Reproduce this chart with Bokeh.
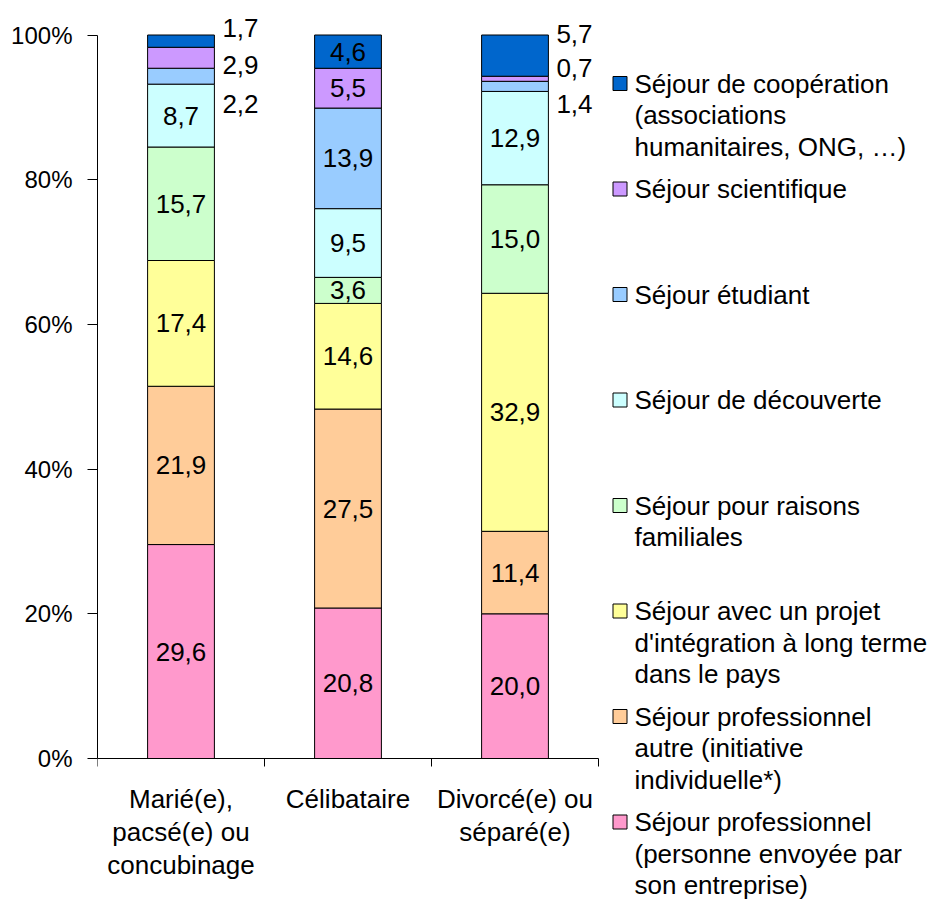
from bokeh.plotting import figure
from bokeh.models import ColumnDataSource, FixedTicker, Range1d
from bokeh.embed import file_html
from bokeh.resources import INLINE
from bokeh.core.properties import value

# ---------------- data ----------------
categories = ["Marié(e),\npacsé(e) ou\nconcubinage", "Célibataire", "Divorcé(e) ou\nséparé(e)"]

# series, from the bottom of each bar to the top
series_keys = ["envoye", "autre", "integration", "familial", "decouverte", "etudiant", "scientifique", "cooperation"]
series_labels = [
    "Séjour professionnel\n(personne envoyée par\nson entreprise)",
    "Séjour professionnel\nautre (initiative\nindividuelle*)",
    "Séjour avec un projet\nd'intégration à long terme\ndans le pays",
    "Séjour pour raisons\nfamiliales",
    "Séjour de découverte",
    "Séjour étudiant",
    "Séjour scientifique",
    "Séjour de coopération\n(associations\nhumanitaires, ONG, …)",
]
envoye = [29.6, 20.8, 20.0]
autre = [21.9, 27.5, 11.4]
integration = [17.4, 14.6, 32.9]
familial = [15.7, 3.6, 15.0]
decouverte = [8.7, 9.5, 12.9]
etudiant = [2.2, 13.9, 1.4]
scientifique = [2.9, 5.5, 0.7]
cooperation = [1.7, 4.6, 5.7]

y_ticks = [0, 20, 40, 60, 80, 100]

# ---------------- style ----------------
colors = ["#FF99CC", "#FFCC99", "#FFFF99", "#CCFFCC", "#CCFFFF", "#99CCFF", "#CC99FF", "#0066CC"]
FONT = "Liberation Sans"
FS_TICK = "24px"
FS_LABEL = "26px"
FS_CAT = "26px"
FS_LEGEND = "26px"
BAR_W = 0.4
# labels of thin segments drawn beside the bar (category index, series key) -> label height in %
outside_label_y = {
    (0, "etudiant"): 90.4, (0, "scientifique"): 95.8, (0, "cooperation"): 100.9,
    (2, "etudiant"): 90.5, (2, "scientifique"): 95.5, (2, "cooperation"): 100.2,
}
# legend layout, in pixels of the chart area
LEG_SQ_X = 619.5
LEG_TXT_X = 634
LEG_Y0 = 83
LEG_STEP = 105.5
LEG_LINE = 31.5

values = {"envoye": envoye, "autre": autre, "integration": integration, "familial": familial,
          "decouverte": decouverte, "etudiant": etudiant, "scientifique": scientifique,
          "cooperation": cooperation}

n = len(categories)
xs = [i + 0.5 for i in range(n)]
totals = [sum(values[k][i] for k in series_keys) for i in range(n)]
data = {"x": xs}
for k in series_keys:
    data[k] = [values[k][i] / totals[i] * 100 for i in range(n)]
source = ColumnDataSource(data)

W, H = 927, 903
LEFT, TOP = 97, 12
CAT_PX = 167.0          # pixels per category
PCT_PX = 746 / 103.11   # pixels per percent
ZERO_Y = 758
p = figure(width=W, height=H, output_backend="svg", toolbar_location=None,
           x_range=Range1d(0, (W - LEFT) / CAT_PX),
           y_range=Range1d(-(H - ZERO_Y) / PCT_PX, (ZERO_Y - TOP) / PCT_PX),
           min_border_left=LEFT, min_border_right=0, min_border_top=TOP, min_border_bottom=0)
p.extra_x_ranges = {"px": Range1d(LEFT, W)}
p.extra_y_ranges = {"px": Range1d(H, TOP)}
p.outline_line_color = None
p.xgrid.visible = False
p.ygrid.visible = False
p.background_fill_color = "white"
p.border_fill_color = "white"

renderers = p.vbar_stack(series_keys, x="x", width=BAR_W, source=source,
                         fill_color=colors, line_color="black", line_width=1)

# value labels
in_x, in_y, in_t = [], [], []
out_x, out_y, out_t = [], [], []
for i in range(n):
    base = 0.0
    for k in series_keys:
        v = data[k][i]
        txt = f"{values[k][i]:.1f}".replace(".", ",")
        if (i, k) in outside_label_y:
            out_x.append(xs[i] + BAR_W / 2)
            out_y.append(outside_label_y[(i, k)])
            out_t.append(txt)
        else:
            in_x.append(xs[i])
            in_y.append(base + v / 2)
            in_t.append(txt)
        base += v

p.text(x="x", y="y", text="t", source=ColumnDataSource(dict(x=in_x, y=in_y, t=in_t)),
       text_font=value(FONT), text_font_size=FS_LABEL, text_color="black",
       text_align="center", text_baseline="middle")
p.text(x="x", y="y", text="t", source=ColumnDataSource(dict(x=out_x, y=out_y, t=out_t)),
       text_font=value(FONT), text_font_size=FS_LABEL, text_color="black",
       text_align="left", text_baseline="middle", x_offset=8)

# axes
yax = p.yaxis[0]
yax.ticker = FixedTicker(ticks=y_ticks)
yax.major_label_overrides = {t: f"{t}%" for t in y_ticks}
yax.bounds = (0, 100)
yax.major_tick_out = 10
yax.major_tick_in = 0
yax.minor_tick_out = 0
yax.minor_tick_in = 0
yax.major_label_standoff = 15
yax.axis_line_color = "black"
yax.major_tick_line_color = "black"
yax.major_label_text_font = FONT
yax.major_label_text_font_size = FS_TICK
yax.major_label_text_color = "black"

xax = p.xaxis[0]
xax.fixed_location = 0
xax.ticker = FixedTicker(ticks=xs, minor_ticks=list(range(n + 1)))
xax.major_label_overrides = {x: c for x, c in zip(xs, categories)}
xax.bounds = (0, n)
xax.major_tick_out = 0
xax.major_tick_in = 0
xax.minor_tick_out = 8
xax.minor_tick_in = 0
xax.minor_tick_line_color = "black"
xax.major_label_standoff = 17
xax.axis_line_color = "black"
xax.major_label_text_font = FONT
xax.major_label_text_font_size = FS_CAT
xax.major_label_text_color = "black"
xax.major_label_text_line_height = 1.1

# legend, top to bottom = reverse of stacking order (pixel ranges)
order = list(reversed(range(len(series_keys))))
sq_y = [LEG_Y0 + r * LEG_STEP for r in range(len(order))]
p.scatter(x=[LEG_SQ_X] * len(order), y=sq_y, marker="square", size=14,
          fill_color=[colors[j] for j in order], line_color="black", line_width=1,
          x_range_name="px", y_range_name="px")
tx, ty, tt = [], [], []
for r, j in enumerate(order):
    for li, line in enumerate(series_labels[j].split("\n")):
        tx.append(LEG_TXT_X)
        ty.append(sq_y[r] + li * LEG_LINE)
        tt.append(line)
p.text(x=tx, y=ty, text=tt, text_font=value(FONT), text_font_size=FS_LEGEND,
       text_color="black", text_align="left", text_baseline="middle",
       x_range_name="px", y_range_name="px")

open("out.html", "w").write(file_html(p, INLINE))
